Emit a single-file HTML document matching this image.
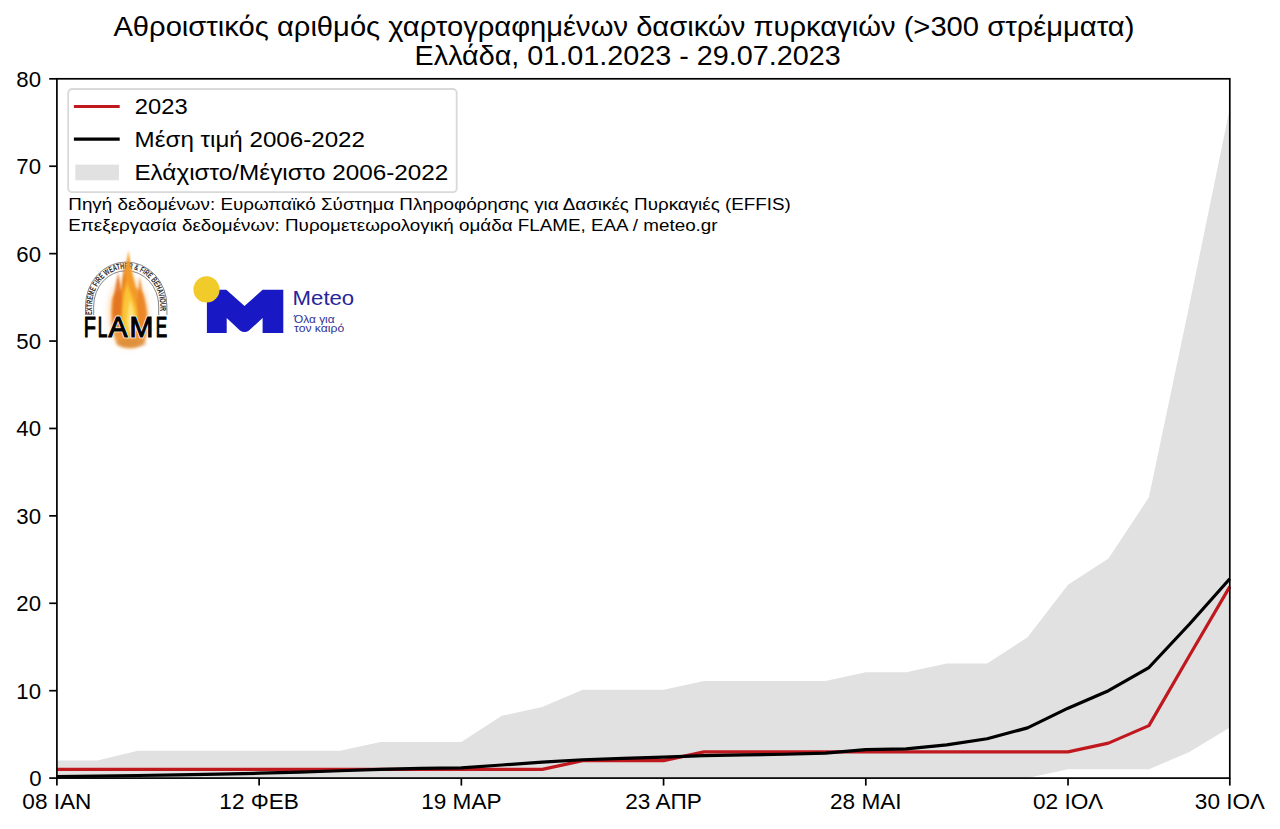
<!DOCTYPE html>
<html><head><meta charset="utf-8"><style>
html,body{margin:0;padding:0;background:#fff;}
svg{display:block;}
text{font-family:"Liberation Sans", sans-serif;fill:#000;}
</style></head><body>
<svg width="1280" height="829" viewBox="0 0 1280 829">
<rect width="1280" height="829" fill="#fff"/>
<polygon points="56.90,760.62 97.34,760.62 137.79,750.83 178.24,750.83 218.68,750.83 259.12,750.83 299.57,750.83 340.01,750.83 380.46,742.09 420.90,742.09 461.35,742.09 501.79,715.86 542.24,707.12 582.68,689.64 623.13,689.64 663.57,689.64 704.02,680.90 744.47,680.90 784.91,680.90 825.36,680.90 865.80,672.16 906.25,672.16 946.69,663.42 987.13,663.42 1027.58,637.20 1068.03,584.75 1108.47,558.53 1148.92,497.34 1189.36,305.04 1229.81,108.36 1229.81,727.40 1189.36,751.88 1148.92,769.36 1108.47,769.36 1068.03,769.36 1027.58,778.10 987.13,778.10 946.69,778.10 906.25,778.10 865.80,778.10 825.36,778.10 784.91,778.10 744.47,778.10 704.02,778.10 663.57,778.10 623.13,778.10 582.68,778.10 542.24,778.10 501.79,778.10 461.35,778.10 420.90,778.10 380.46,778.10 340.01,778.10 299.57,778.10 259.12,778.10 218.68,778.10 178.24,778.10 137.79,778.10 97.34,778.10 56.90,778.10" fill="#e1e1e1"/>
<polyline points="56.90,769.36 97.34,769.36 137.79,769.36 178.24,769.36 218.68,769.36 259.12,769.36 299.57,769.36 340.01,769.36 380.46,769.36 420.90,769.36 461.35,769.36 501.79,769.36 542.24,769.36 582.68,760.62 623.13,760.62 663.57,760.62 704.02,751.88 744.47,751.88 784.91,751.88 825.36,751.88 865.80,751.88 906.25,751.88 946.69,751.88 987.13,751.88 1027.58,751.88 1068.03,751.88 1108.47,743.14 1148.92,725.65 1189.36,655.73 1229.81,586.67" fill="none" stroke="#c0181f" stroke-width="3.2" stroke-linejoin="round"/>
<polyline points="56.90,776.53 97.34,776.18 137.79,775.48 178.24,774.78 218.68,774.08 259.12,773.21 299.57,772.16 340.01,770.76 380.46,769.36 420.90,768.31 461.35,767.79 501.79,764.99 542.24,762.10 582.68,759.74 623.13,758.35 663.57,757.12 704.02,755.55 744.47,754.94 784.91,754.24 825.36,753.19 865.80,749.69 906.25,748.82 946.69,744.88 987.13,738.77 1027.58,727.84 1068.03,708.17 1108.47,690.69 1148.92,667.53 1189.36,624.26 1229.81,578.81" fill="none" stroke="#000" stroke-width="3.2" stroke-linejoin="round"/>
<rect x="56.9" y="78.8" width="1172.9" height="699.3" fill="none" stroke="#000" stroke-width="1.7"/>
<text x="41.6" y="786.00" font-size="22.2" text-anchor="end">0</text><line x1="49.2" y1="778.10" x2="56.9" y2="778.10" stroke="#000" stroke-width="1.7"/><text x="41" y="698.59" font-size="22.2" text-anchor="end">10</text><line x1="49.2" y1="690.69" x2="56.9" y2="690.69" stroke="#000" stroke-width="1.7"/><text x="41" y="611.18" font-size="22.2" text-anchor="end">20</text><line x1="49.2" y1="603.28" x2="56.9" y2="603.28" stroke="#000" stroke-width="1.7"/><text x="41" y="523.77" font-size="22.2" text-anchor="end">30</text><line x1="49.2" y1="515.87" x2="56.9" y2="515.87" stroke="#000" stroke-width="1.7"/><text x="41" y="436.36" font-size="22.2" text-anchor="end">40</text><line x1="49.2" y1="428.46" x2="56.9" y2="428.46" stroke="#000" stroke-width="1.7"/><text x="41" y="348.95" font-size="22.2" text-anchor="end">50</text><line x1="49.2" y1="341.05" x2="56.9" y2="341.05" stroke="#000" stroke-width="1.7"/><text x="41" y="261.54" font-size="22.2" text-anchor="end">60</text><line x1="49.2" y1="253.64" x2="56.9" y2="253.64" stroke="#000" stroke-width="1.7"/><text x="41" y="174.13" font-size="22.2" text-anchor="end">70</text><line x1="49.2" y1="166.23" x2="56.9" y2="166.23" stroke="#000" stroke-width="1.7"/><text x="41" y="86.72" font-size="22.2" text-anchor="end">80</text><line x1="49.2" y1="78.82" x2="56.9" y2="78.82" stroke="#000" stroke-width="1.7"/>
<text x="56.90" y="809.2" font-size="22.6" text-anchor="middle">08 ΙΑΝ</text><line x1="56.90" y1="778.1" x2="56.90" y2="785.6" stroke="#000" stroke-width="1.7"/><text x="259.12" y="809.2" font-size="22.6" text-anchor="middle">12 ΦΕΒ</text><line x1="259.12" y1="778.1" x2="259.12" y2="785.6" stroke="#000" stroke-width="1.7"/><text x="461.35" y="809.2" font-size="22.6" text-anchor="middle">19 ΜΑΡ</text><line x1="461.35" y1="778.1" x2="461.35" y2="785.6" stroke="#000" stroke-width="1.7"/><text x="663.57" y="809.2" font-size="22.6" text-anchor="middle">23 ΑΠΡ</text><line x1="663.57" y1="778.1" x2="663.57" y2="785.6" stroke="#000" stroke-width="1.7"/><text x="865.80" y="809.2" font-size="22.6" text-anchor="middle">28 ΜΑΙ</text><line x1="865.80" y1="778.1" x2="865.80" y2="785.6" stroke="#000" stroke-width="1.7"/><text x="1068.03" y="809.2" font-size="22.6" text-anchor="middle">02 ΙΟΛ</text><line x1="1068.03" y1="778.1" x2="1068.03" y2="785.6" stroke="#000" stroke-width="1.7"/><text x="1229.81" y="809.2" font-size="22.6" text-anchor="middle">30 ΙΟΛ</text><line x1="1229.81" y1="778.1" x2="1229.81" y2="785.6" stroke="#000" stroke-width="1.7"/>
<rect x="68.2" y="89" width="388.5" height="103.2" rx="4" ry="4" fill="#fff" fill-opacity="0.8" stroke="#d9d9d9" stroke-width="1.8"/>
<line x1="73.9" y1="106.5" x2="119.7" y2="106.5" stroke="#c0181f" stroke-width="3.2"/>
<line x1="73.9" y1="139.1" x2="119.7" y2="139.1" stroke="#000" stroke-width="3.2"/>
<rect x="75.3" y="164.6" width="43.7" height="15.7" fill="#e1e1e1"/>
<text x="113.40" y="35.50" font-size="27.2" textLength="1021.00" lengthAdjust="spacingAndGlyphs">Αθροιστικός αριθμός χαρτογραφημένων δασικών πυρκαγιών (&gt;300 στρέμματα)</text><text x="414.60" y="64.70" font-size="27.2" textLength="426.20" lengthAdjust="spacingAndGlyphs">Ελλάδα, 01.01.2023 - 29.07.2023</text><text x="134.80" y="114.20" font-size="22.2" textLength="52.80" lengthAdjust="spacingAndGlyphs">2023</text><text x="134.60" y="146.70" font-size="22.2" textLength="230.40" lengthAdjust="spacingAndGlyphs">Μέση τιμή 2006-2022</text><text x="134.40" y="179.90" font-size="22.2" textLength="314.00" lengthAdjust="spacingAndGlyphs">Ελάχιστο/Μέγιστο 2006-2022</text><text x="68.30" y="209.70" font-size="16.3" textLength="722.50" lengthAdjust="spacingAndGlyphs">Πηγή δεδομένων: Ευρωπαϊκό Σύστημα Πληροφόρησης για Δασικές Πυρκαγιές (EFFIS)</text><text x="68.30" y="230.50" font-size="16.3" textLength="649.30" lengthAdjust="spacingAndGlyphs">Επεξεργασία δεδομένων: Πυρομετεωρολογική ομάδα FLAME, ΕΑΑ / meteo.gr</text>

<g id="flame">
  <defs>
    <filter id="blur3" x="-50%" y="-50%" width="200%" height="200%"><feGaussianBlur stdDeviation="3"/></filter>
    <filter id="blur2" x="-50%" y="-50%" width="200%" height="200%"><feGaussianBlur stdDeviation="1.6"/></filter>
    <filter id="blur1" x="-50%" y="-50%" width="200%" height="200%"><feGaussianBlur stdDeviation="0.8"/></filter>
    <path id="arcp" d="M92.2,315 L92.2,306 A34 37.3 0 0 1 160.2,306 L160.2,315"/>
  </defs>
  <path d="M85.5,315 L85.5,306 A40.7 44 0 0 1 166.9,306 L166.9,315" fill="none" stroke="#777" stroke-width="0.9"/>
  <path d="M93.7,315 L93.7,306 A32.5 35.3 0 0 1 158.7,306 L158.7,315" fill="none" stroke="#777" stroke-width="0.9"/>
  <text style="font-size:8.6px;font-weight:bold;fill:#2a2a2a"><textPath href="#arcp" textLength="126" lengthAdjust="spacingAndGlyphs">EXTREME FIRE WEATHER &amp; FIRE BEHAVIOUR</textPath></text>
  <ellipse cx="128" cy="312" rx="20" ry="36" fill="#f8c890" opacity="0.5" filter="url(#blur3)"/>
  <path d="M112,300 C110,316 111,334 118,344 C126,350 138,349 145,341 C150,328 148,310 144,296 C140,288 132,286 126,288 C118,290 113,294 112,300 Z" fill="#f0922e" opacity="0.9" filter="url(#blur2)"/>
  <path d="M128.5,250 C127,262 123,276 121,290 C119,304 120,320 124,334 L136,334 C139,318 139,302 136,288 C133,276 130,264 128.5,250 Z" fill="#f49a26" filter="url(#blur1)"/>
  <path d="M118,272 C116,286 112,300 113,316 C114,326 118,332 122,334 C124,318 123,300 121,288 C120,282 119,278 118,272 Z" fill="#e2701c" opacity="0.85" filter="url(#blur1)"/>
  <path d="M140,276 C141,290 146,304 146,318 C146,328 142,334 138,336 C136,320 137,304 138,292 C139,286 139,282 140,276 Z" fill="#ea8424" opacity="0.85" filter="url(#blur1)"/>
  <path d="M127,282 C124,296 121,310 122,322 C123,332 127,338 131,338 C136,336 138,326 137,314 C136,302 130,294 127,282 Z" fill="#fcc638" filter="url(#blur2)"/>
  <path d="M130,300 C128,310 126,320 128,328 C130,334 134,334 135,328 C136,318 133,308 130,300 Z" fill="#ffe27a" filter="url(#blur1)"/>
  <path d="M124,262 C123,272 122,282 123,292 C125,284 126,272 124,262 Z" fill="#d8601a" opacity="0.6" filter="url(#blur1)"/>
  <ellipse cx="131" cy="343" rx="15" ry="4.5" fill="#d48a3c" opacity="0.6" filter="url(#blur2)"/>
  <text x="83.78" y="336.7" style="font-size:29px;fill:#fff;stroke:#fff;stroke-width:2.6px" textLength="12.14" lengthAdjust="spacingAndGlyphs">F</text>
  <text x="97.80" y="336.7" style="font-size:29px;fill:#fff;stroke:#fff;stroke-width:2.6px" textLength="9.58" lengthAdjust="spacingAndGlyphs">L</text>
  <text x="108.42" y="336.7" style="font-size:29px;fill:#fff;stroke:#fff;stroke-width:2.6px" textLength="19.06" lengthAdjust="spacingAndGlyphs">A</text>
  <text x="129.56" y="336.7" style="font-size:29px;fill:#fff;stroke:#fff;stroke-width:2.6px" textLength="23.83" lengthAdjust="spacingAndGlyphs">M</text>
  <text x="155.76" y="336.7" style="font-size:29px;fill:#fff;stroke:#fff;stroke-width:2.6px" textLength="11.46" lengthAdjust="spacingAndGlyphs">E</text>
  <text x="83.78" y="336.7" style="font-size:29px;fill:#000;stroke:#000;stroke-width:1.1px" textLength="12.14" lengthAdjust="spacingAndGlyphs">F</text>
  <text x="97.80" y="336.7" style="font-size:29px;fill:#000;stroke:#000;stroke-width:1.1px" textLength="9.58" lengthAdjust="spacingAndGlyphs">L</text>
  <text x="108.42" y="336.7" style="font-size:29px;fill:#000;stroke:#000;stroke-width:1.1px" textLength="19.06" lengthAdjust="spacingAndGlyphs">A</text>
  <text x="129.56" y="336.7" style="font-size:29px;fill:#000;stroke:#000;stroke-width:1.1px" textLength="23.83" lengthAdjust="spacingAndGlyphs">M</text>
  <text x="155.76" y="336.7" style="font-size:29px;fill:#000;stroke:#000;stroke-width:1.1px" textLength="11.46" lengthAdjust="spacingAndGlyphs">E</text>
</g>


<g id="meteo">
  <path d="M206.9,289.8 L226.3,289.8 L244.5,305.9 L262.6,289.8 L283.3,289.8 L283.3,332.9 L262.6,332.9 L262.6,318.1 L249,330.5 Q244.5,333.5 240,330.5 L226.7,318.1 L226.7,332.9 L206.9,332.9 Z" fill="#1818c4"/>
  <circle cx="206.5" cy="289.4" r="13.1" fill="#f0cb2a"/>
  <text x="292.6" y="304.6" style="font-size:21px;fill:#26269a" textLength="61.6" lengthAdjust="spacingAndGlyphs">Meteo</text>
  <text x="294" y="322.7" style="font-size:11.5px;fill:#303098" textLength="40.6" lengthAdjust="spacingAndGlyphs">Όλα για</text>
  <text x="294" y="332.3" style="font-size:11.5px;fill:#303098" textLength="50.2" lengthAdjust="spacingAndGlyphs">τον καιρό</text>
</g>

</svg>
</body></html>
